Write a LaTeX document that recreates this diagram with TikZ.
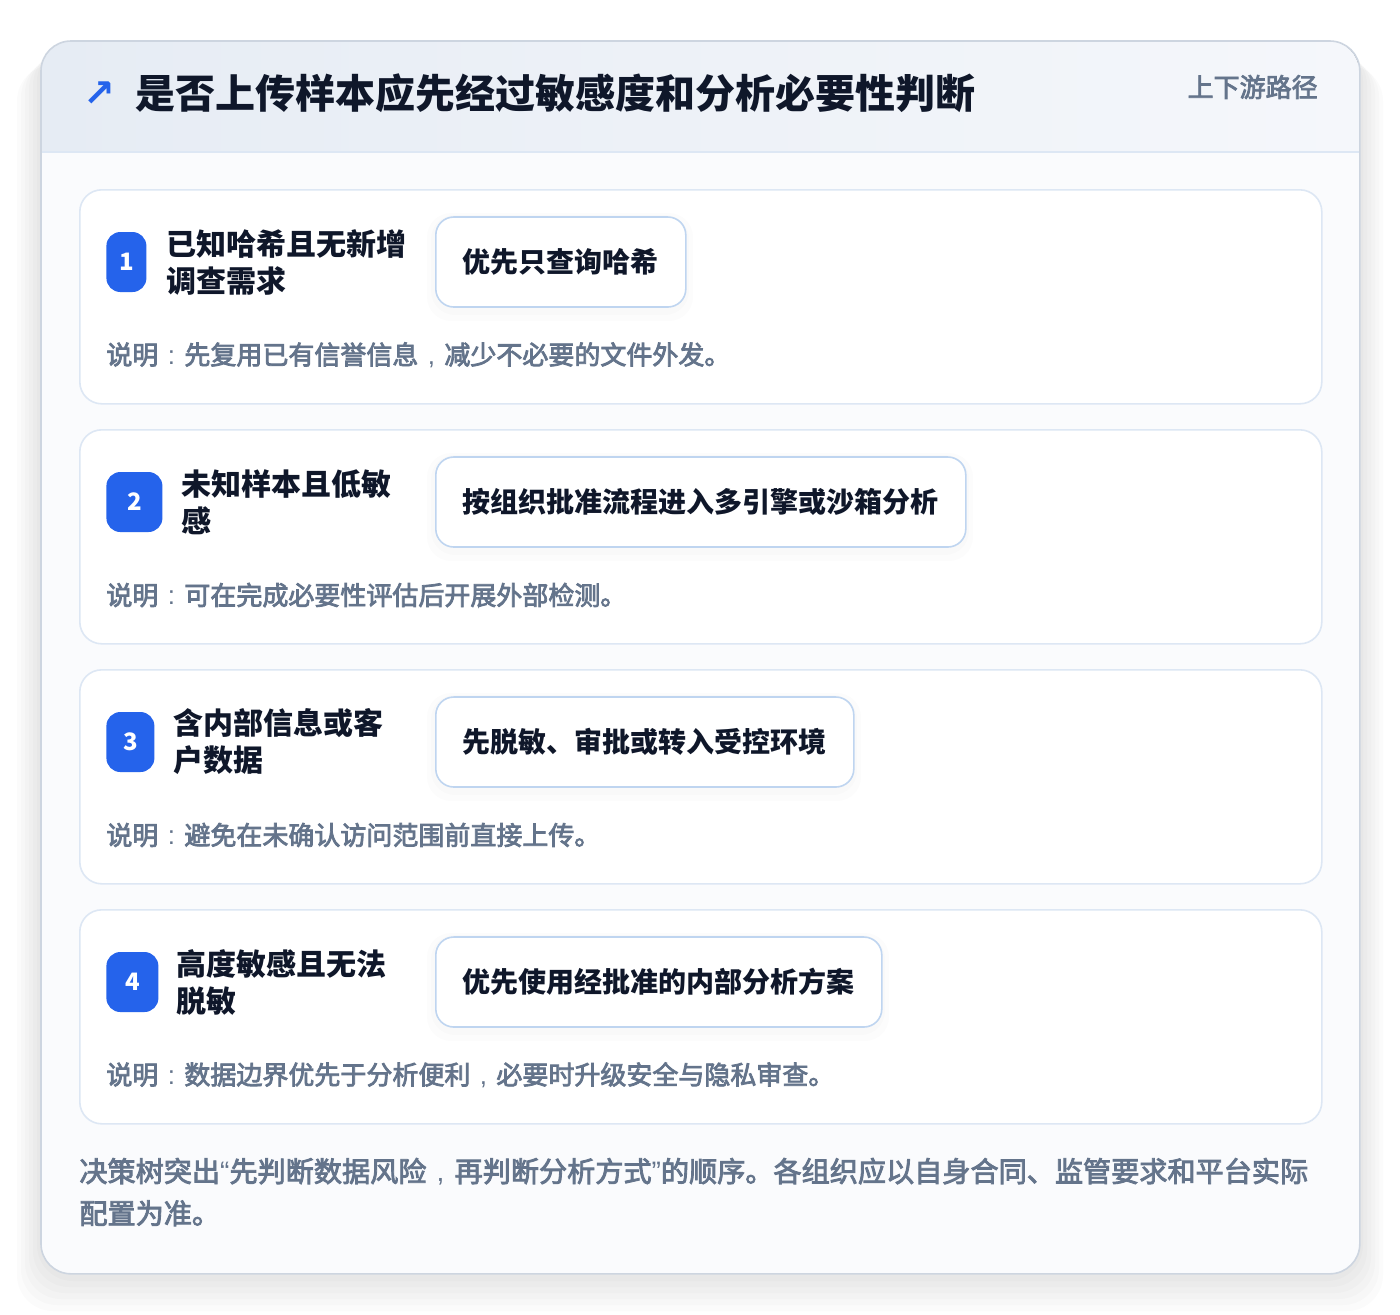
\documentclass[tikz,border=0pt]{standalone}
\usepackage{fontspec}
\setmainfont{Noto Sans CJK SC}
\newfontfamily\medfont[FakeBold=3]{Noto Sans CJK SC}
\newfontfamily\symfont{DejaVu Sans}
\newfontfamily\latinfont{Liberation Sans}
\usepackage{tikz}
\usetikzlibrary{positioning}
\definecolor{ink}{HTML}{0F172A}
\definecolor{muted}{HTML}{64748B}
\definecolor{accent}{HTML}{2563EB}
\definecolor{cardline}{HTML}{DDE7F4}
\definecolor{boxline}{HTML}{BFD5F0}
\definecolor{frameline}{HTML}{CDD5E0}
\definecolor{bodybg}{HTML}{FAFBFD}
\definecolor{headleft}{HTML}{E6ECF4}
\definecolor{headright}{HTML}{F5F7FB}
\newcommand{\ccolon}{\makebox[1em]{\latinfont :}}
\newcommand{\ccomma}{\makebox[1em]{\latinfont ,}}
\newcommand{\openq}{{\latinfont\char"201C}}
\newcommand{\closeq}{{\latinfont\char"201D}}
\tikzstyle{frame} = [rectangle, rounded corners=15pt, fill=bodybg, minimum width=659pt, minimum height=616pt]
\tikzstyle{glow} = [black, fill opacity=0.016, rounded corners=18pt]
\tikzstyle{card} = [rectangle, rounded corners=11pt, draw=cardline, line width=0.8pt, fill=white, minimum width=621pt, minimum height=107pt]
\tikzstyle{badge} = [rectangle, rounded corners=7pt, fill=accent, text=white, minimum height=30pt, inner sep=0pt, font=\bfseries\fontsize{12}{14}\selectfont]
\tikzstyle{cond} = [inner sep=0pt, align=left, text=ink, font=\bfseries\fontsize{15}{18.5}\selectfont]
\tikzstyle{action} = [rectangle, rounded corners=9pt, draw=boxline, line width=0.8pt, fill=white, text=ink, inner xsep=13.5pt, minimum height=45pt, font=\bfseries\fontsize{14}{16}\selectfont]
\tikzstyle{haze} = [black, fill opacity=0.012, rounded corners=12pt]
\tikzstyle{note} = [inner sep=0pt, text=muted, font=\medfont\fontsize{13}{15}\selectfont]

\begin{document}
\begin{tikzpicture}[x=0.5pt, y=-0.5pt]
\useasboundingbox (0,0) rectangle (1400,1314);
\fill[white] (0,0) rectangle (1400,1314);

% soft shadow under the panel
\fill[glow] (37,45) rectangle (1363,1281);
\fill[glow] (33,49) rectangle (1367,1287);
\fill[glow] (29,53) rectangle (1371,1293);
\fill[glow] (25,57) rectangle (1375,1299);
\fill[glow] (21,61) rectangle (1379,1305);
\fill[glow] (17,65) rectangle (1383,1311);

% outer card and header band
\node (panel) [frame, anchor=north west] at (41,41) {};
\begin{scope}
\clip[rounded corners=15pt] (41,41) rectangle (1359,1273);
\fill[left color=headleft, right color=headright] (41,41) rectangle (1359,152);
\end{scope}
\draw[cardline, line width=0.8pt] (panel.west |- 0,152) -- (panel.east |- 0,152);
\draw[frameline, line width=0.8pt, rounded corners=15pt] (panel.north west) rectangle (panel.south east);

\node (arrow) [anchor=center, text=accent, font=\symfont\bfseries\fontsize{19}{20}\selectfont] at (99,94) {↗};
\node (title) [anchor=west, inner sep=0pt, text=ink, font=\bfseries\fontsize{20}{24}\selectfont] at (135,93)
	{是否上传样本应先经过敏感度和分析必要性判断};
\node (tag) [anchor=east, inner sep=0pt, text=muted, font=\medfont\fontsize{13}{15}\selectfont] at (1318,87)
	{上下游路径};

% step 1
\node (card1) [card, anchor=north west] at (79,189) {};
\fill[haze] (431,215) rectangle (689,315);
\fill[haze] (427,213) rectangle (693,321);
\node (badge1) [badge, minimum width=20pt, anchor=west] at (106,262) {1};
\node (cond1) [cond, right=9.5pt of badge1] {已知哈希且无新增\\调查需求};
\node (act1) [action, anchor=west] at (435,262) {优先只查询哈希};
\node (note1) [note, anchor=west] at (106,355) {说明\ccolon 先复用已有信誉信息\ccomma 减少不必要的文件外发。};

% step 2
\node (card2) [card, anchor=north west] at (79,429) {};
\fill[haze] (431,455) rectangle (969,555);
\fill[haze] (427,453) rectangle (973,561);
\node (badge2) [badge, minimum width=28pt, anchor=west] at (106,502) {2};
\node (cond2) [cond, right=9pt of badge2] {未知样本且低敏\\感};
\node (act2) [action, anchor=west] at (435,502) {按组织批准流程进入多引擎或沙箱分析};
\node (note2) [note, anchor=west] at (106,595) {说明\ccolon 可在完成必要性评估后开展外部检测。};

% step 3
\node (card3) [card, anchor=north west] at (79,669) {};
\fill[haze] (431,695) rectangle (857,795);
\fill[haze] (427,693) rectangle (861,801);
\node (badge3) [badge, minimum width=24pt, anchor=west] at (106,742) {3};
\node (cond3) [cond, right=9pt of badge3] {含内部信息或客\\户数据};
\node (act3) [action, anchor=west] at (435,742) {先脱敏、审批或转入受控环境};
\node (note3) [note, anchor=west] at (106,835) {说明\ccolon 避免在未确认访问范围前直接上传。};

% step 4
\node (card4) [card, anchor=north west] at (79,909) {};
\fill[haze] (431,935) rectangle (885,1035);
\fill[haze] (427,933) rectangle (889,1041);
\node (badge4) [badge, minimum width=26pt, anchor=west] at (106,982) {4};
\node (cond4) [cond, right=8.5pt of badge4] {高度敏感且无法\\脱敏};
\node (act4) [action, anchor=west] at (435,982) {优先使用经批准的内部分析方案};
\node (note4) [note, anchor=west] at (106,1075) {说明\ccolon 数据边界优先于分析便利\ccomma 必要时升级安全与隐私审查。};

% closing remark
\node (remark) [anchor=west, inner sep=0pt, align=left, text=muted, font=\medfont\fontsize{14.07}{21}\selectfont] at (79,1192)
	{决策树突出\openq 先判断数据风险\ccomma 再判断分析方式\closeq 的顺序。各组织应以自身合同、监管要求和平台实际\\配置为准。};

\end{tikzpicture}
\end{document}
